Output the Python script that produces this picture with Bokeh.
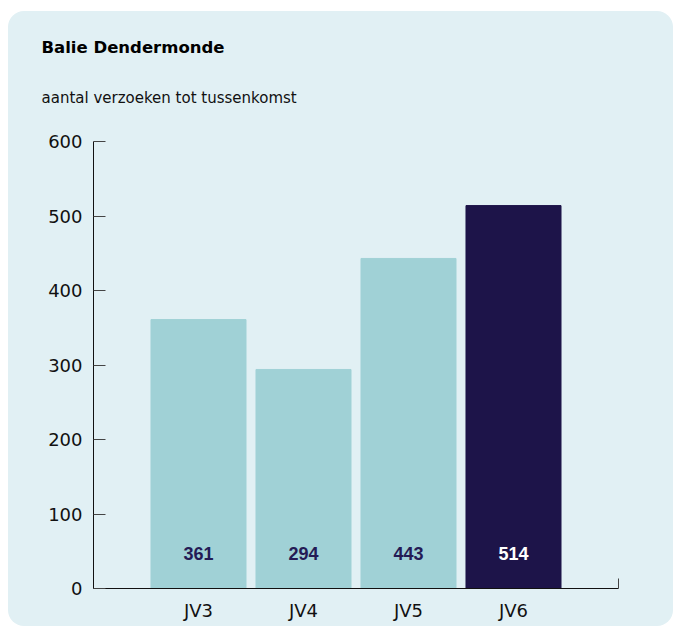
from bokeh.plotting import figure
from bokeh.models import ColumnDataSource, FixedTicker, Range1d, Title
from bokeh.core.properties import value
from bokeh.embed import file_html
from bokeh.resources import INLINE

categories = ["JV3", "JV4", "JV5", "JV6"]
counts = [361, 294, 443, 514]
y_ticks = [0, 100, 200, 300, 400, 500, 600]
title_text = "Balie Dendermonde"
subtitle_text = "aantal verzoeken tot tussenkomst"

BG = "#E1F0F4"
LIGHT = "#A0D1D6"
DARK = "#1D1449"

pos = list(range(len(categories)))
colors = [LIGHT, LIGHT, LIGHT, DARK]
label_colors = ["#241B55", "#241B55", "#241B55", "#FFFFFF"]
src = ColumnDataSource(dict(x=pos, top=counts, color=colors, lc=label_colors,
                            txt=[str(c) for c in counts], ly=[47] * len(counts)))

p = figure(width=665, height=615, output_backend="svg", toolbar_location=None,
           x_range=Range1d(-1, len(categories)), y_range=Range1d(0, 600),
           min_border_left=85, min_border_right=55, min_border_top=130,
           min_border_bottom=38)
p.background_fill_color = None
p.border_fill_color = None
p.outline_line_color = None
p.styles = {"background-color": BG, "border-radius": "16px",
            "margin-left": "8px", "margin-top": "11px"}
p.grid.visible = False

p.title.text = title_text
p.title.align = "left"
p.title.offset = -52
p.title.standoff = -10
p.title.text_font = "DejaVu Sans"
p.title.text_font_style = "bold"
p.title.text_font_size = "16.5px"
p.title.text_color = "#000000"

p.add_layout(Title(text=subtitle_text, align="left", offset=-52, standoff=70,
                   text_font="DejaVu Sans", text_font_style="normal",
                   text_font_size="15px", text_color="#111111"), "above")

p.vbar(x="x", top="top", bottom=0, width=0.905, color="color", source=src)
p.text(x="x", y="ly", text="txt", text_color="lc", source=src,
       text_align="center", text_baseline="middle",
       text_font=value("Liberation Sans"), text_font_style="bold", text_font_size="18px")

yax = p.yaxis[0]
yax.ticker = FixedTicker(ticks=y_ticks, minor_ticks=[])
yax.major_tick_in = 12
yax.major_tick_out = 0
yax.minor_tick_in = 0
yax.minor_tick_out = 0
yax.major_tick_line_color = "#444444"
yax.axis_line_color = "#111111"
yax.major_label_text_font = "DejaVu Sans"
yax.major_label_text_font_size = "18px"
yax.major_label_text_color = "#111111"
yax.major_label_standoff = 11

xax = p.xaxis[0]
xax.ticker = FixedTicker(ticks=pos, minor_ticks=[-1, len(categories)])
xax.major_label_overrides = {i: c for i, c in zip(pos, categories)}
xax.major_tick_in = 0
xax.major_tick_out = 0
xax.minor_tick_in = 10
xax.minor_tick_out = 0
xax.minor_tick_line_color = "#444444"
xax.axis_line_color = "#111111"
xax.major_label_text_font = "DejaVu Sans"
xax.major_label_text_font_size = "18px"
xax.major_label_text_color = "#111111"
xax.major_label_standoff = 11

open("out.html", "w").write(file_html(p, INLINE))
